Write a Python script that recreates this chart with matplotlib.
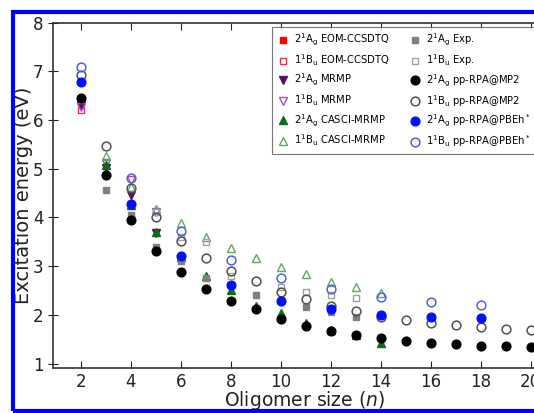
import matplotlib
matplotlib.use('Agg')
import matplotlib.pyplot as plt
from matplotlib.patches import Rectangle

plt.rcParams['font.family'] = ['DejaVu Sans']
plt.rcParams['mathtext.default'] = 'regular'

# --- data ---
n_eom = [2]
eom_ag = [6.38]
eom_bu = [6.21]

n_mrmp = [2, 3, 4, 5]
mrmp_ag = [6.31, 5.02, 4.47, 3.68]
mrmp_bu = [6.26, 5.12, 4.76, 4.12]

n_casci = [3, 4, 5, 6, 7, 8, 9, 10, 11, 12, 13, 14]
casci_ag = [5.08, 4.26, 3.70, 3.19, 2.80, 2.50, 2.19, 2.03, 1.84, 1.68, 1.58, 1.42]
casci_bu = [5.26, 4.62, 4.18, 3.88, 3.60, 3.38, 3.16, 2.99, 2.83, 2.68, 2.57, 2.44]

n_exp_ag = [3, 4, 5, 6, 7, 8, 9, 10, 11, 12, 13]
exp_ag = [4.56, 4.05, 3.39, 3.11, 2.75, 2.62, 2.41, 2.28, 2.17, 2.05, 1.96]
n_exp_bu = [5, 6, 7, 8, 10, 11, 12, 13]
exp_bu = [4.12, 3.60, 3.50, 2.80, 2.58, 2.46, 2.41, 2.34]

n_mp2 = list(range(2, 21))
mp2_ag = [6.46, 4.87, 3.95, 3.32, 2.87, 2.53, 2.28, 2.12, 1.91, 1.78, 1.67, 1.59,
          1.52, 1.46, 1.42, 1.40, 1.36, 1.35, 1.33]
mp2_bu = [6.93, 5.47, 4.61, 4.01, 3.52, 3.17, 2.90, 2.70, 2.46, 2.32, 2.19, 2.08,
          1.96, 1.90, 1.83, 1.79, 1.76, 1.71, 1.68]

n_pbeh = [2, 4, 6, 8, 10, 12, 14, 16, 18]
pbeh_ag = [6.78, 4.27, 3.20, 2.61, 2.29, 2.12, 1.99, 1.95, 1.94]
pbeh_bu = [7.10, 4.81, 3.73, 3.13, 2.75, 2.53, 2.36, 2.26, 2.20]

xticks = [2, 4, 6, 8, 10, 12, 14, 16, 18, 20]
yticks = [1, 2, 3, 4, 5, 6, 7, 8]

fig = plt.figure(figsize=(5.34, 4.13), dpi=100)
ax = fig.add_axes([0.0998, 0.108, 0.941, 0.837])

ms_c = 6.3   # circles
ms_s = 4.2   # squares
ms_t = 5.5   # triangles

h = []
h += ax.plot(n_eom, eom_ag, 's', color='#ff0000', ms=ms_s, label=r'$2^1A_g$ EOM-CCSDTQ')
h += ax.plot(n_eom, eom_bu, 's', mfc='none', mec='#e83050', ms=ms_s, label=r'$1^1B_u$ EOM-CCSDTQ')
h += ax.plot(n_mrmp, mrmp_ag, 'v', color='#5a1060', ms=ms_t, label=r'$2^1A_g$ MRMP')
h += ax.plot(n_mrmp, mrmp_bu, 'v', mfc='none', mec='#a050c0', ms=ms_t, label=r'$1^1B_u$ MRMP')
h += ax.plot(n_casci, casci_ag, '^', color='#0a6e1a', ms=ms_t, label=r'$2^1A_g$ CASCI-MRMP')
h += ax.plot(n_casci, casci_bu, '^', mfc='none', mec='#60a860', ms=ms_t, label=r'$1^1B_u$ CASCI-MRMP')
h += ax.plot(n_exp_ag, exp_ag, 's', color='#808080', ms=ms_s, label=r'$2^1A_g$ Exp.')
h += ax.plot(n_exp_bu, exp_bu, 's', mfc='none', mec='#a0a0a0', ms=ms_s, label=r'$1^1B_u$ Exp.')
h += ax.plot(n_mp2, mp2_ag, 'o', color='black', ms=ms_c, label=r'$2^1A_g$ pp-RPA@MP2')
h += ax.plot(n_mp2, mp2_bu, 'o', mfc='none', mec='#505050', mew=1.1, ms=ms_c, label=r'$1^1B_u$ pp-RPA@MP2')
h += ax.plot(n_pbeh, pbeh_ag, 'o', color='#0010ff', ms=ms_c, label=r'$2^1A_g$ pp-RPA@PBEh$^*$')
h += ax.plot(n_pbeh, pbeh_bu, 'o', mfc='none', mec='#5060e0', mew=1.1, ms=ms_c, label=r'$1^1B_u$ pp-RPA@PBEh$^*$')

ax.set_xlim(0.9, 21)
ax.set_ylim(0.9, 8)
ax.set_xticks(xticks)
ax.set_yticks(yticks)
ax.tick_params(axis='x', direction='in', top=True, length=5, labelsize=12, colors='#222222', pad=3)
ax.tick_params(axis='y', direction='inout', right=True, length=7, labelsize=12, colors='#222222')
for s in ax.spines.values():
    s.set_color('#333333')
    s.set_linewidth(1.2)

ax.set_xlabel('Oligomer size ($\\it{n}$)', fontsize=13.5, color='#222222', labelpad=-1)
ax.set_ylabel('Excitation energy (eV)', fontsize=14, color='#222222', labelpad=0)

leg = fig.legend(handles=h, ncol=2, loc='upper left',
                 bbox_to_anchor=(271.5 / 534, 1 - 27 / 413), borderaxespad=0,
                 fontsize=7.2, labelspacing=0.42, handletextpad=0.5,
                 columnspacing=2.0, handlelength=1.2, borderpad=0.5,
                 frameon=True, fancybox=False, edgecolor='#555555')
leg.get_frame().set_linewidth(0.8)

# blue frame around the panel
fig.add_artist(Rectangle((13 / 534, 1.8 / 413), 1.1, 399.5 / 413, transform=fig.transFigure,
                         fill=False, edgecolor='#0000ff', linewidth=3.0, clip_on=False))

fig.savefig('out.png', dpi=100)
